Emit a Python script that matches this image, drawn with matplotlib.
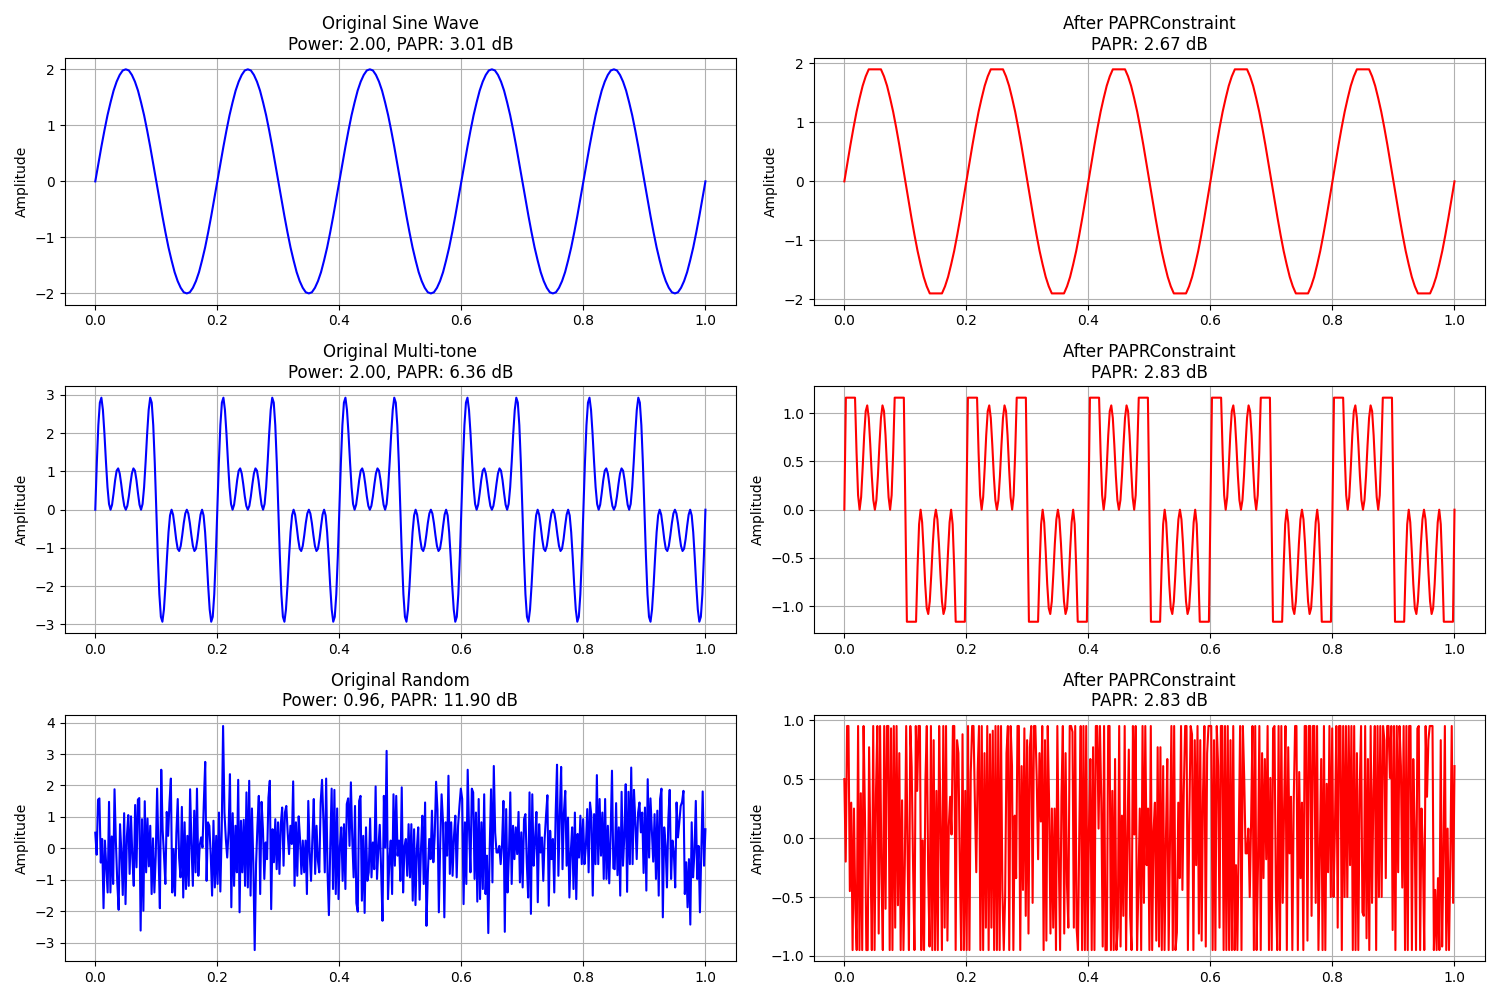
import numpy as np
import matplotlib
matplotlib.use("Agg")
import matplotlib.pyplot as plt

# 5 Hz sine, amplitude 2 (40 samples per period)
sine_wave = [
    0.00, 0.31, 0.62, 0.91, 1.18, 1.41, 1.62, 1.78, 1.90, 1.98, 2.00, 1.98, 1.90, 1.78, 1.62, 1.41, 1.18, 0.91, 0.62, 0.31,
    0.00, -0.31, -0.62, -0.91, -1.18, -1.41, -1.62, -1.78, -1.90, -1.98, -2.00, -1.98, -1.90, -1.78, -1.62, -1.41, -1.18, -0.91, -0.62, -0.31,
    0.00, 0.31, 0.62, 0.91, 1.18, 1.41, 1.62, 1.78, 1.90, 1.98, 2.00, 1.98, 1.90, 1.78, 1.62, 1.41, 1.18, 0.91, 0.62, 0.31,
    0.00, -0.31, -0.62, -0.91, -1.18, -1.41, -1.62, -1.78, -1.90, -1.98, -2.00, -1.98, -1.90, -1.78, -1.62, -1.41, -1.18, -0.91, -0.62, -0.31,
    0.00, 0.31, 0.62, 0.91, 1.18, 1.41, 1.62, 1.78, 1.90, 1.98, 2.00, 1.98, 1.90, 1.78, 1.62, 1.41, 1.18, 0.91, 0.62, 0.31,
    0.00, -0.31, -0.62, -0.91, -1.18, -1.41, -1.62, -1.78, -1.90, -1.98, -2.00, -1.98, -1.90, -1.78, -1.62, -1.41, -1.18, -0.91, -0.62, -0.31,
    0.00, 0.31, 0.62, 0.91, 1.18, 1.41, 1.62, 1.78, 1.90, 1.98, 2.00, 1.98, 1.90, 1.78, 1.62, 1.41, 1.18, 0.91, 0.62, 0.31,
    0.00, -0.31, -0.62, -0.91, -1.18, -1.41, -1.62, -1.78, -1.90, -1.98, -2.00, -1.98, -1.90, -1.78, -1.62, -1.41, -1.18, -0.91, -0.62, -0.31,
    0.00, 0.31, 0.62, 0.91, 1.18, 1.41, 1.62, 1.78, 1.90, 1.98, 2.00, 1.98, 1.90, 1.78, 1.62, 1.41, 1.18, 0.91, 0.62, 0.31,
    0.00, -0.31, -0.62, -0.91, -1.18, -1.41, -1.62, -1.78, -1.90, -1.98, -2.00, -1.98, -1.90, -1.78, -1.62, -1.41, -1.18, -0.91, -0.62, -0.31,
    0.00,
]

# multi-tone (4 odd harmonics), one row per half period
multi_tone = [
    0.00, 1.22, 2.21, 2.80, 2.93, 2.61, 1.99, 1.25, 0.59, 0.15, 0.00, 0.13, 0.43, 0.77, 1.02, 1.08, 0.95, 0.67, 0.35, 0.10,
    0.00, 0.10, 0.35, 0.67, 0.95, 1.08, 1.02, 0.77, 0.43, 0.13, 0.00, 0.15, 0.59, 1.25, 1.99, 2.61, 2.93, 2.80, 2.21, 1.22,
    0.00, -1.22, -2.21, -2.80, -2.93, -2.61, -1.99, -1.25, -0.59, -0.15, 0.00, -0.13, -0.43, -0.77, -1.02, -1.08, -0.95, -0.67, -0.35, -0.10,
    0.00, -0.10, -0.35, -0.67, -0.95, -1.08, -1.02, -0.77, -0.43, -0.13, 0.00, -0.15, -0.59, -1.25, -1.99, -2.61, -2.93, -2.80, -2.21, -1.22,
    0.00, 1.22, 2.21, 2.80, 2.93, 2.61, 1.99, 1.25, 0.59, 0.15, 0.00, 0.13, 0.43, 0.77, 1.02, 1.08, 0.95, 0.67, 0.35, 0.10,
    0.00, 0.10, 0.35, 0.67, 0.95, 1.08, 1.02, 0.77, 0.43, 0.13, 0.00, 0.15, 0.59, 1.25, 1.99, 2.61, 2.93, 2.80, 2.21, 1.22,
    0.00, -1.22, -2.21, -2.80, -2.93, -2.61, -1.99, -1.25, -0.59, -0.15, 0.00, -0.13, -0.43, -0.77, -1.02, -1.08, -0.95, -0.67, -0.35, -0.10,
    0.00, -0.10, -0.35, -0.67, -0.95, -1.08, -1.02, -0.77, -0.43, -0.13, 0.00, -0.15, -0.59, -1.25, -1.99, -2.61, -2.93, -2.80, -2.21, -1.22,
    0.00, 1.22, 2.21, 2.80, 2.93, 2.61, 1.99, 1.25, 0.59, 0.15, 0.00, 0.13, 0.43, 0.77, 1.02, 1.08, 0.95, 0.67, 0.35, 0.10,
    0.00, 0.10, 0.35, 0.67, 0.95, 1.08, 1.02, 0.77, 0.43, 0.13, 0.00, 0.15, 0.59, 1.25, 1.99, 2.61, 2.93, 2.80, 2.21, 1.22,
    0.00, -1.22, -2.21, -2.80, -2.93, -2.61, -1.99, -1.25, -0.59, -0.15, 0.00, -0.13, -0.43, -0.77, -1.02, -1.08, -0.95, -0.67, -0.35, -0.10,
    0.00, -0.10, -0.35, -0.67, -0.95, -1.08, -1.02, -0.77, -0.43, -0.13, 0.00, -0.15, -0.59, -1.25, -1.99, -2.61, -2.93, -2.80, -2.21, -1.22,
    0.00, 1.22, 2.21, 2.80, 2.93, 2.61, 1.99, 1.25, 0.59, 0.15, 0.00, 0.13, 0.43, 0.77, 1.02, 1.08, 0.95, 0.67, 0.35, 0.10,
    0.00, 0.10, 0.35, 0.67, 0.95, 1.08, 1.02, 0.77, 0.43, 0.13, 0.00, 0.15, 0.59, 1.25, 1.99, 2.61, 2.93, 2.80, 2.21, 1.22,
    0.00, -1.22, -2.21, -2.80, -2.93, -2.61, -1.99, -1.25, -0.59, -0.15, 0.00, -0.13, -0.43, -0.77, -1.02, -1.08, -0.95, -0.67, -0.35, -0.10,
    0.00, -0.10, -0.35, -0.67, -0.95, -1.08, -1.02, -0.77, -0.43, -0.13, 0.00, -0.15, -0.59, -1.25, -1.99, -2.61, -2.93, -2.80, -2.21, -1.22,
    0.00, 1.22, 2.21, 2.80, 2.93, 2.61, 1.99, 1.25, 0.59, 0.15, 0.00, 0.13, 0.43, 0.77, 1.02, 1.08, 0.95, 0.67, 0.35, 0.10,
    0.00, 0.10, 0.35, 0.67, 0.95, 1.08, 1.02, 0.77, 0.43, 0.13, 0.00, 0.15, 0.59, 1.25, 1.99, 2.61, 2.93, 2.80, 2.21, 1.22,
    0.00, -1.22, -2.21, -2.80, -2.93, -2.61, -1.99, -1.25, -0.59, -0.15, 0.00, -0.13, -0.43, -0.77, -1.02, -1.08, -0.95, -0.67, -0.35, -0.10,
    0.00, -0.10, -0.35, -0.67, -0.95, -1.08, -1.02, -0.77, -0.43, -0.13, 0.00, -0.15, -0.59, -1.25, -1.99, -2.61, -2.93, -2.80, -2.21, -1.22,
    0.00,
]

# random signal (approximate), about 75 samples per 1/6 of the time axis
random_sig = [
    0.5, -0.2, 1.55, 1.59, -0.45, 0.3, -1.9, 0.25, -0.6, -1.4, 1.48, -1.4, 0.38, -1.13, 1.88, 0.2, -1.08, -1.95, 0.77, -0.13,
    -1.48, 1.12, -1.77, 0.38, 1.06, -0.81, 1.02, -0.3, -1.19, 1.38, -0.6, 1.55, 1.6, -2.61, 0.93, -1.98, 1.5, -0.76, 0.95, -0.57,
    0.72, -1.45, 0.32, -1.4, -0.23, 1.9, -0.13, -1.9, 2.5, 0.6, -0.23, -1.13, 1.16, 0.4, 1.46, 2.22, -1.4, -0.02, -1.5, 0.49,
    1.57, -0.3, -0.92, 1.32, -1.56, 0.83, -1.29, 0.4, -1.19, 1.88, 0.1, -1.19, 1.2, -0.76, 1.9,
    -0.87, 0.1, 0.35, 0.03, 1.48, 2.75, -1.03, 0.83, 0.72, -0.2, -1.5, 0.88, -1.24, 0.4, -1.13, 1.14, -1.37, 0.56, 3.89, 1.14,
    0.3, -0.29, 0.56, 2.36, -1.87, 1.12, -1.19, 0.72, -0.76, 2.18, -2.03, 0.88, -0.76, 0.91, -1.19, 1.78, -1.24, 2.15, -1.5, 1.27,
    -0.44, -3.23, -0.5, 0.72, 1.67, -1.45, 1.48, 0.61, -0.97, 0.19, -0.34, 1.61, 2.15, -1.93, 0.61, -0.44, 0.93, -0.66, 0.83, -0.81,
    0.77, 1.3, -0.55, 1.14, 1.35, 0.5, -0.18, 0.72, 0.14, 2.13, -1.19, 0.83, -0.87, 1.02,
    0.3, -0.81, 0.25, -0.76, 0.25, -1.45, 1.51, -0.13, -1.03, 0.35, 1.57, -0.81, 0.72, -0.39, -0.76, 1.46, 2.18, 0.9, -0.76, 2.22,
    -0.76, -2.12, 0.08, 1.9, -1.29, 1.86, -1.45, 1.27, -1.61, 0.08, 0.67, -1.03, 0.77, -1.29, 1.41, 1.59, 0.08, 2.1, 0.3, -0.92,
    1.35, -1.74, -2.01, 1.51, 1.67, -1.66, 0.4, -2.05, 0.67, -1.03, -0.76, 0.95, -0.92, 0.19, -0.66, 1.97, -0.97, -0.02, 0.75, -0.66,
    -2.3, 1.67, 0.03, 3.1, -1.61, -0.4, 0.25, -1.45, 1.72, -0.55, 1.67, -0.23, 0.25, -1.03, 1.94,
    -1.4, 0.06, 0.3, -0.87, 0.77, -0.92, 0.77, -1.66, 0.61, -1.8, -0.02, 0.67, -1.63, -0.02, 1.04, -1.13, 1.46, -2.46, -0.8, 0.3,
    -0.34, 1.2, -0.44, 0.4, 2.12, 1.23, -2.03, 0.14, 1.72, 0.88, -2.19, 0.83, -0.23, 2.31, -0.81, 0.83, -0.87, 0.38, 1.04, -0.92,
    0.72, 1.35, 1.9, 1.57, -1.77, 0.83, -1.13, 2.5, 0.61, -0.76, 1.9, 1.78, -0.97, 1.14, -1.69, 1.57, -1.61, 0.83, -1.29, 1.72,
    -1.45, -0.23, -2.69, -0.02, 1.88, -1.08, 2.62, 0.5, -0.13, -0.13, 0.08, -0.5, 0.14, 1.51,
    -2.65, 1.25, -1.4, -0.23, 1.78, -1.13, 0.72, -0.34, 0.67, -0.18, 1.16, -1.08, 0.51, -1.24, 0.93, 1.09, -0.44, -1.56, 1.78, -2.08,
    1.72, -0.55, 0.25, 1.16, -1.71, 0.77, -0.13, 0.35, -1.03, 0.3, 1.04, 1.69, -1.82, 0.56, -0.34, 0.3, -1.4, 1.09, 2.66, -0.87,
    1.04, 2.59, -0.66, 1.14, 1.83, -0.55, 0.98, -1.56, -0.13, 0.67, -1.29, 1.14, -1.61, 0.46, -0.29, 1.04, -0.5, 0.93, -0.5, 0.08,
    1.25, -0.76, 1.46, 1.04, -1.5, 1.09, -0.5, 2.33, -0.5, 1.57, -0.23, 1.14, -0.97,
    1.57, -0.97, 0.72, -1.11, 0.4, 2.47, -0.63, -0.66, 1.44, -0.85, 0.67, -1.5, 1.8, -0.55, 0.4, 2.04, -1.38, 1.8, -0.5, 2.57,
    -0.5, 1.86, 0.83, -0.34, 1.14, 1.46, 0.51, 1.14, -0.78, 1.3, -1.34, 2.2, -0.29, 1.59, 0.61, -0.42, 1.09, -0.97, 1.2, -1.5,
    1.57, 1.9, -2.19, 0.67, 0.08, -1.24, 0.93, 1.86, -0.97, 0.25, -0.13, -1.24, 1.46, 0.35, 0.83, 1.35, 1.48, 1.83, -1.45, -0.44,
    -1.87, -0.34, -2.42, 0.83, -0.92, -0.13, 1.51, -0.97, 0.08, -2.03, -0.18, 1.81, -0.55, 0.61,
]

# clip levels of the PAPR constraint (read from flat tops)
clip_levels = [1.90, 1.16, 0.95]

signals = [sine_wave, multi_tone, random_sig]
orig_titles = [
    "Original Sine Wave\nPower: 2.00, PAPR: 3.01 dB",
    "Original Multi-tone\nPower: 2.00, PAPR: 6.36 dB",
    "Original Random\nPower: 0.96, PAPR: 11.90 dB",
]
after_titles = [
    "After PAPRConstraint\nPAPR: 2.67 dB",
    "After PAPRConstraint\nPAPR: 2.83 dB",
    "After PAPRConstraint\nPAPR: 2.83 dB",
]

fig, axes = plt.subplots(3, 2, figsize=(15, 10))

for i, sig in enumerate(signals):
    y = np.array(sig)
    t = np.linspace(0, 1, len(y))
    y_clip = np.clip(y, -clip_levels[i], clip_levels[i])

    ax = axes[i, 0]
    ax.plot(t, y, "b-")
    ax.set_title(orig_titles[i])
    ax.set_ylabel("Amplitude")
    ax.grid(True)

    ax = axes[i, 1]
    ax.plot(t, y_clip, "r-")
    ax.set_title(after_titles[i])
    ax.set_ylabel("Amplitude")
    ax.grid(True)

plt.tight_layout()
plt.savefig("out.png", dpi=100)
